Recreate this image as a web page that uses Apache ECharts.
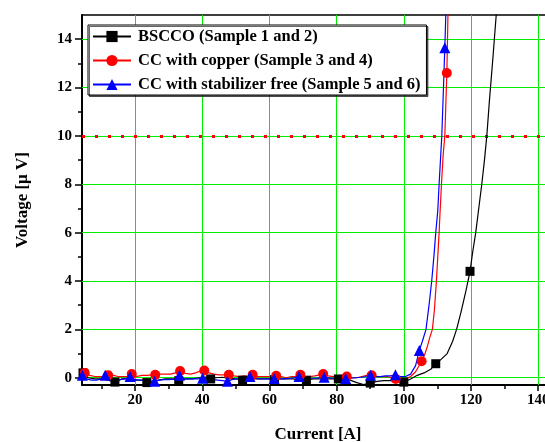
<!DOCTYPE html>
<html><head><meta charset="utf-8">
<script src="https://cdn.jsdelivr.net/npm/echarts@6/dist/echarts.min.js"></script>
<style>html,body{margin:0;padding:0;background:#fff}#c{width:545px;height:442px}</style>
</head><body><div id="c"></div>
<script>
const seriesNames = ['BSCCO (Sample 1 and 2)', 'CC with copper (Sample 3 and 4)', 'CC with stabilizer free (Sample 5 and 6)'];

// [current A, voltage µV]
const bscco = [[4.2,0.25],[4.5,0.2],[6,0.0],[8,-0.05],[10,-0.05],[12,-0.1],[14,-0.18],[16,-0.05],[18,-0.05],[20,-0.1],[22,-0.1],[23.5,-0.2],[25,-0.15],[27,-0.1],[29,-0.05],[31,-0.05],[33,-0.12],[35,-0.05],[37,-0.05],[39,0.0],[41,0.03],[42.5,-0.05],[44,0.0],[46,0.02],[48,-0.03],[50,-0.05],[52,-0.1],[54,-0.05],[56,-0.05],[58,-0.05],[60,-0.05],[61.5,-0.08],[63,-0.05],[65,-0.05],[67,-0.05],[69,-0.1],[71,-0.1],[73,-0.05],[75,-0.05],[77,-0.05],[79,-0.05],[80.5,-0.05],[82,-0.05],[84,-0.1],[86,-0.2],[88,-0.28],[90,-0.22],[92,-0.15],[94,-0.12],[96,-0.12],[98,-0.15],[100,-0.18],[102,-0.05],[104,0.1],[106,0.2],[108,0.35],[109.5,0.58],[111,0.75],[112.9,1.0],[114.5,1.5],[115.7,2.0],[117,2.7],[118.5,3.6],[119.7,4.4],[120.5,5.2],[121.4,6.0],[122.3,7.0],[123.2,8.0],[124,9.0],[124.7,10.0],[125.5,11.5],[126.5,13.2],[127.5,15.0],[128.5,17.0]];
const bsccoMarkers = [4.5,14,23.5,33,42.5,52,61.5,71,80.5,90,100,109.5,119.7];

const copper = [[4.2,0.15],[5,0.2],[6.5,0.1],[8,0.05],[9.5,0.05],[11,0.05],[12,0.1],[13.5,0.1],[15,0.05],[16.5,0.05],[18,0.05],[19,0.15],[20.5,0.05],[22,0.1],[23.5,0.1],[25,0.12],[26,0.12],[27.5,0.15],[29,0.15],[30.5,0.15],[32,0.2],[33.4,0.28],[35,0.18],[36.5,0.15],[38,0.2],[39.5,0.28],[40.6,0.3],[42,0.2],[43.5,0.15],[45,0.12],[46.5,0.12],[47.9,0.12],[49.5,0.08],[51,0.05],[52.5,0.08],[54,0.05],[55,0.12],[56.5,0.05],[58,0.05],[59.5,0.05],[61,0.05],[62,0.08],[63.5,0.05],[65,0.0],[66.5,0.05],[68,0.05],[69.2,0.12],[70.5,0.05],[72,0.05],[73.5,0.08],[75,0.12],[76,0.15],[77.5,0.08],[79,0.05],[80.5,0.05],[82,0.05],[83,0.05],[84.5,0.0],[86,0.0],[87.5,0.05],[89,0.1],[90.4,0.1],[92,0.05],[93.5,0.05],[95,0.05],[96.5,0.0],[97.6,-0.05],[99,-0.08],[100.5,-0.05],[102,0.05],[103.5,0.25],[105.3,0.68],[106.2,0.95],[107,1.3],[107.8,1.7],[108.5,2.0],[109.1,2.8],[109.7,4.0],[110.1,5.0],[110.5,6.0],[110.8,6.9],[111.2,8.0],[111.7,9.2],[112.2,10.0],[112.5,11.3],[112.8,12.6],[113.0,14.0],[113.2,15.5]];
const copperMarkers = [5,12,19,26,33.4,40.6,47.9,55,62,69.2,76,83,90.4,97.6,105.3,112.8];

const stabFree = [[4.3,0.1],[5.5,-0.05],[7,-0.1],[8.5,-0.1],[10,-0.05],[11.1,0.1],[12.5,0.0],[14,-0.05],[15.5,-0.08],[17,-0.05],[18.5,0.05],[20,-0.08],[21.5,-0.1],[23,-0.12],[24.5,-0.15],[25.8,-0.15],[27.2,-0.1],[28.7,-0.08],[30.2,-0.08],[31.7,-0.05],[33.2,0.1],[34.6,-0.05],[36,-0.05],[37.4,-0.05],[38.8,-0.05],[40.1,-0.02],[41.6,-0.05],[43.1,-0.08],[44.6,-0.1],[46,-0.12],[47.5,-0.15],[48.8,-0.08],[50.2,-0.05],[51.5,-0.05],[52.9,-0.02],[54.2,0.05],[55.6,-0.02],[57,-0.05],[58.5,-0.05],[60,-0.05],[61.4,-0.03],[62.9,-0.05],[64.4,-0.05],[65.8,-0.03],[67.3,0.0],[68.8,0.05],[70.3,0.0],[71.8,-0.02],[73.3,-0.02],[74.8,0.0],[76.3,0.02],[77.6,0.0],[78.9,-0.02],[80.1,-0.03],[81.4,-0.05],[82.7,-0.03],[84.2,-0.02],[85.7,0.0],[87.2,0.02],[88.6,0.05],[90.1,0.1],[91.6,0.05],[93,0.05],[94.5,0.08],[96,0.08],[97.5,0.12],[99,0.05],[100.5,0.05],[102,0.15],[103.5,0.5],[104.6,1.13],[105.5,1.5],[106.6,2.0],[107.5,3.0],[108.3,4.0],[109,5.1],[109.5,6.0],[110.1,6.9],[110.5,8.0],[110.9,9.0],[111.3,10.0],[111.8,12.0],[112.2,13.65],[112.6,15.5]];
const stabFreeMarkers = [4.3,11.1,18.5,25.8,33.2,40.1,47.5,54.2,61.4,68.8,76.3,82.7,90.1,97.5,104.6,112.2];

const xMajorTicks = [20,40,60,80,100,120,140];
const xMinorTicks = [10,30,50,70,90,110,130];
const yMajorTicks = [0,2,4,6,8,10,12,14];
const yMinorTicks = [1,3,5,7,9,11,13];
const thresholdVoltage = 10;

const FONT = 'Liberation Serif';
const GRID_GREEN = '#00ee00';
function build(points, markers) {
  return points.map(p => markers.some(m => Math.abs(m - p[0]) < 1e-9) ? { value: p } : { value: p, symbol: 'none' });
}
const chart = echarts.init(document.getElementById('c'), null, { renderer: 'canvas' });
const X_MIN = 4.2, X_MAX = 144.7, Y_MIN = -0.3, Y_MAX = 15;
const lineSeries = (name, pts, marks, color, symbol, size, extra) => Object.assign({
  type: 'line', name, data: build(pts, marks), symbol, symbolSize: size,
  showAllSymbol: true, color, lineStyle: { color, width: 1.2 }, itemStyle: { color },
  clip: true, z: 3
}, extra || {});

const gridLineData = xMajorTicks.map(v => ({ xAxis: v })).concat(yMajorTicks.map(v => ({ yAxis: v })));

chart.setOption({
  animation: false,
  backgroundColor: '#fff',
  grid: { left: 82, top: 15, right: -9, bottom: 57, outerBoundsMode: 'none', containLabel: false, show: true, borderColor: '#000', borderWidth: 1.5, backgroundColor: 'transparent' },
  legend: {
    orient: 'vertical', left: 88, top: 25, padding: [3, 6, 2, 4],
    itemWidth: 38, itemHeight: 14, itemGap: 7,
    backgroundColor: '#fff', borderColor: '#000', borderWidth: 1,
    shadowColor: 'rgba(0,0,0,0.6)', shadowOffsetX: 1.5, shadowOffsetY: 1.5, shadowBlur: 0,
    textStyle: { fontFamily: FONT, fontWeight: 'bold', fontSize: 16.5, color: '#000', padding: [0, 0, 0, 2] },
    data: seriesNames
  },
  xAxis: [{
    type: 'value', min: X_MIN, max: X_MAX, splitNumber: 7, position: 'bottom',
    axisLine: { onZero: false, lineStyle: { color: '#000', width: 2 } },
    axisTick: { customValues: xMajorTicks, length: 6, lineStyle: { color: '#000', width: 1.5 } },
    axisLabel: { customValues: xMajorTicks, margin: 8, fontFamily: FONT, fontWeight: 'bold', fontSize: 15, color: '#000' },
    splitLine: { show: false },
    name: 'Current [A]', nameLocation: 'middle', nameGap: 41,
    nameTextStyle: { fontFamily: FONT, fontWeight: 'bold', fontSize: 17, color: '#000' }
  }, {
    type: 'value', min: X_MIN, max: X_MAX, position: 'bottom',
    axisLine: { show: false, onZero: false },
    axisTick: { customValues: xMinorTicks, length: 4, lineStyle: { color: '#000', width: 1.5 } },
    axisLabel: { show: false }, splitLine: { show: false }
  }],
  yAxis: [{
    type: 'value', min: Y_MIN, max: Y_MAX, splitNumber: 8, position: 'left',
    axisLine: { show: true, onZero: false, lineStyle: { color: '#000', width: 2 } },
    axisTick: { show: true, customValues: yMajorTicks, length: 7, lineStyle: { color: '#000', width: 1.5 } },
    axisLabel: { customValues: yMajorTicks, margin: 10, fontFamily: FONT, fontWeight: 'bold', fontSize: 15, color: '#000' },
    splitLine: { show: false },
    name: 'Voltage [μ V]', nameLocation: 'middle', nameGap: 51,
    nameTextStyle: { fontFamily: FONT, fontWeight: 'bold', fontSize: 17, color: '#000' }
  }, {
    type: 'value', min: Y_MIN, max: Y_MAX, position: 'left',
    axisLine: { show: false, onZero: false },
    axisTick: { show: true, customValues: yMinorTicks, length: 4, lineStyle: { color: '#000', width: 1.5 } },
    axisLabel: { show: false }, splitLine: { show: false }
  }],
  series: [
    lineSeries(seriesNames[0], bscco, bsccoMarkers, '#000000', 'rect', 9, {
      markLine: {
        silent: true, symbol: 'none', label: { show: false }, z: 1, animation: false,
        lineStyle: { color: GRID_GREEN, width: 1, type: 'solid' },
        emphasis: { disabled: true },
        data: gridLineData
      }
    }),
    lineSeries(seriesNames[1], copper, copperMarkers, '#ff0000', 'circle', 10, {
      markLine: {
        silent: true, symbol: 'none', label: { show: false }, z: 2, animation: false,
        lineStyle: { color: '#ff0000', width: 3, type: [3, 10] },
        data: [{ yAxis: thresholdVoltage }]
      }
    }),
    lineSeries(seriesNames[2], stabFree, stabFreeMarkers, '#0000ff', 'triangle', 11)
  ]
});
</script></body></html>
